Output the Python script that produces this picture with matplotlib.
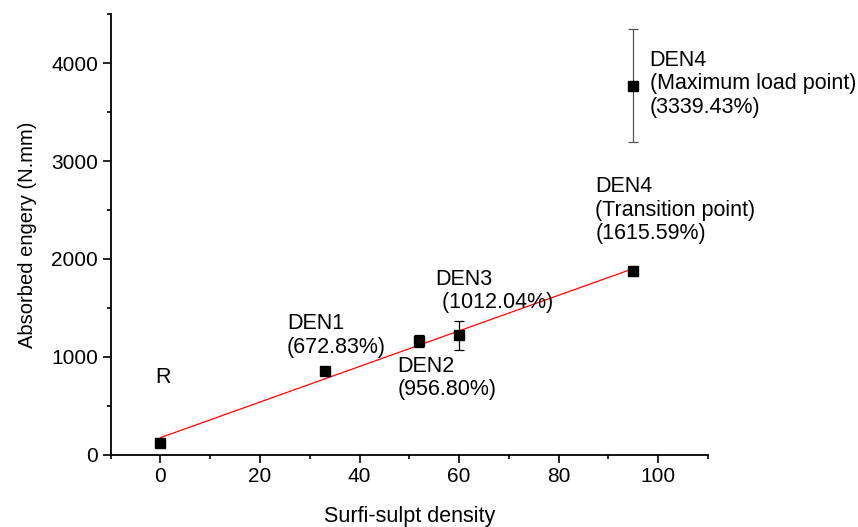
import numpy as np
import matplotlib
matplotlib.use('Agg')
import matplotlib.pyplot as plt
from matplotlib.ticker import MultipleLocator

plt.rcParams['font.family'] = ['Liberation Sans', 'DejaVu Sans']

# data
density = [0, 33, 52, 60, 95]
energy = [120, 857, 1161, 1219, 1880]
energy_err = [0, 0, 60, 147, 0]
labels = ['R', 'DEN1\n(672.83%)', 'DEN2\n(956.80%)', 'DEN3\n (1012.04%)',
          'DEN4\n(Transition point)\n(1615.59%)']
label_pos = [(-1, 792), (25.4, 1220), (47.6, 782), (55.3, 1672), (87.4, 2500)]

max_density = 95
max_energy = 3770
max_err = 576
max_label = 'DEN4\n(Maximum load point)\n(3339.43%)'
max_label_pos = (98.3, 3790)

fig = plt.figure(figsize=(8.58, 5.27), dpi=100)
ax = fig.add_axes([0.129, 0.137, 0.696, 0.836])

# linear fit through the main series
slope, icpt = np.polyfit(density, energy, 1)
xs = np.array([min(density), max(density)])
ax.plot(xs, slope * xs + icpt, color='red', lw=0.9, zorder=2)

ax.errorbar(density, energy, yerr=energy_err, fmt='s', color='black',
            ms=7.5, capsize=3.5, elinewidth=0.9, capthick=0.9, zorder=3)
ax.errorbar([max_density], [max_energy], yerr=[max_err], fmt='s', color='black',
            ecolor='#555555', ms=7.5, capsize=3.5, elinewidth=0.9, capthick=0.9, zorder=3)

fs = 15.5
for lab, (x, y) in zip(labels, label_pos):
    ax.text(x, y, lab, fontsize=fs, ha='left', va='center', linespacing=1.15)
ax.text(max_label_pos[0], max_label_pos[1], max_label, fontsize=fs,
        ha='left', va='center', linespacing=1.15)

ax.set_xlim(-10, 110)
ax.set_ylim(0, 4500)
ax.xaxis.set_major_locator(MultipleLocator(20))
ax.xaxis.set_minor_locator(MultipleLocator(10))
ax.yaxis.set_major_locator(MultipleLocator(1000))
ax.yaxis.set_minor_locator(MultipleLocator(500))
ax.spines['top'].set_visible(False)
ax.spines['right'].set_visible(False)
for s in ['left', 'bottom']:
    ax.spines[s].set_linewidth(1.3)
ax.tick_params(which='major', direction='out', length=5.5, width=1.2, labelsize=15)
ax.tick_params(which='minor', direction='out', length=3, width=1.2)

ax.set_xlabel('Surfi-sulpt density', fontsize=15.5, labelpad=14)
ax.set_ylabel('Absorbed engery (N.mm)', fontsize=14.5, labelpad=10)

fig.savefig('out.png', dpi=100)
